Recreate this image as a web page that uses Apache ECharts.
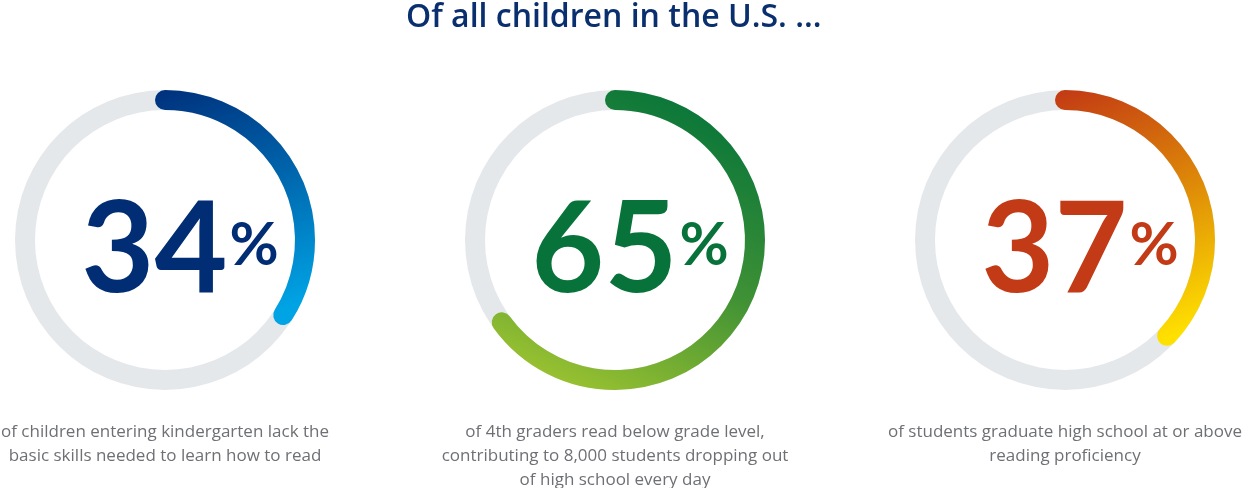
<!DOCTYPE html>
<html>
<head>
<meta charset="utf-8">
<script src="https://cdn.jsdelivr.net/npm/echarts@6/dist/echarts.min.js"></script>
<style>
html,body{margin:0;padding:0;background:#fff;}
#chart{width:1244px;height:488px;}
</style>
</head>
<body>
<div id="chart"></div>
<script>
const headline = 'Of all children in the U.S. ...';
const values = [34, 65, 37];
const captions = [
  'of children entering kindergarten lack the\nbasic skills needed to learn how to read',
  'of 4th graders read below grade level,\ncontributing to 8,000 students dropping out\nof high school every day',
  'of students graduate high school at or above\nreading proficiency'
];
const numberColors = ['#002d74', '#07733a', '#c23a16'];
const arcStops = [
  ['#00307c', '#0067ae', '#00a3e4'],
  ['#07753a', '#3f9135', '#a0c530'],
  ['#c23914', '#de8a08', '#ffe100']
];
const gradDir = [
  [0, 0, 0.5, 1],
  [0.7, 0, 0.2, 1],
  [0, 0, 0.6, 1]
];
const centersX = [165, 615, 1065];

const chart = echarts.init(document.getElementById('chart'), null, {renderer: 'canvas'});
const series = values.map((v, i) => ({
  type: 'gauge',
  center: [centersX[i], 240],
  radius: 150,
  startAngle: 90,
  endAngle: -270,
  min: 0,
  max: 100,
  pointer: {show: false},
  axisLine: {lineStyle: {width: 20, color: [[1, '#e5e8eb']]}},
  progress: {
    show: true, width: 20, roundCap: true,
    itemStyle: {
      color: new echarts.graphic.LinearGradient(gradDir[i][0], gradDir[i][1], gradDir[i][2], gradDir[i][3], [
        {offset: 0, color: arcStops[i][0]},
        {offset: 0.5, color: arcStops[i][1]},
        {offset: 1, color: arcStops[i][2]}
      ])
    }
  },
  splitLine: {show: false},
  axisTick: {show: false},
  axisLabel: {show: false},
  anchor: {show: false},
  title: {show: false},
  detail: {
    offsetCenter: [15, 11],
    formatter: val => '{v|' + val + '}{p|%}',
    rich: {
      v: {fontFamily: 'Lato', fontWeight: 'bold', fontSize: 126, color: numberColors[i], padding: [0, 2, 0, 0]},
      p: {fontFamily: 'Lato', fontWeight: 'bold', fontSize: 60, color: numberColors[i], padding: [0, 0, 10, 0]}
    }
  },
  animation: false,
  data: [{value: v}]
}));

const graphics = captions.map((c, i) => ({
  type: 'text',
  x: centersX[i],
  y: 420,
  style: {
    text: c,
    align: 'center',
    verticalAlign: 'top',
    fontFamily: 'Open Sans',
    fontSize: 17,
    lineHeight: 24,
    fill: '#6e7074'
  }
}));

chart.setOption({
  backgroundColor: '#ffffff',
  animation: false,
  title: {
    text: headline,
    left: 406,
    top: 0,
    padding: [2, 0, 0, 0],
    textStyle: {fontFamily: 'Open Sans', fontWeight: 600, fontSize: 32, color: '#0a2f6e'}
  },
  graphic: graphics,
  series: series
});
</script>
</body>
</html>
